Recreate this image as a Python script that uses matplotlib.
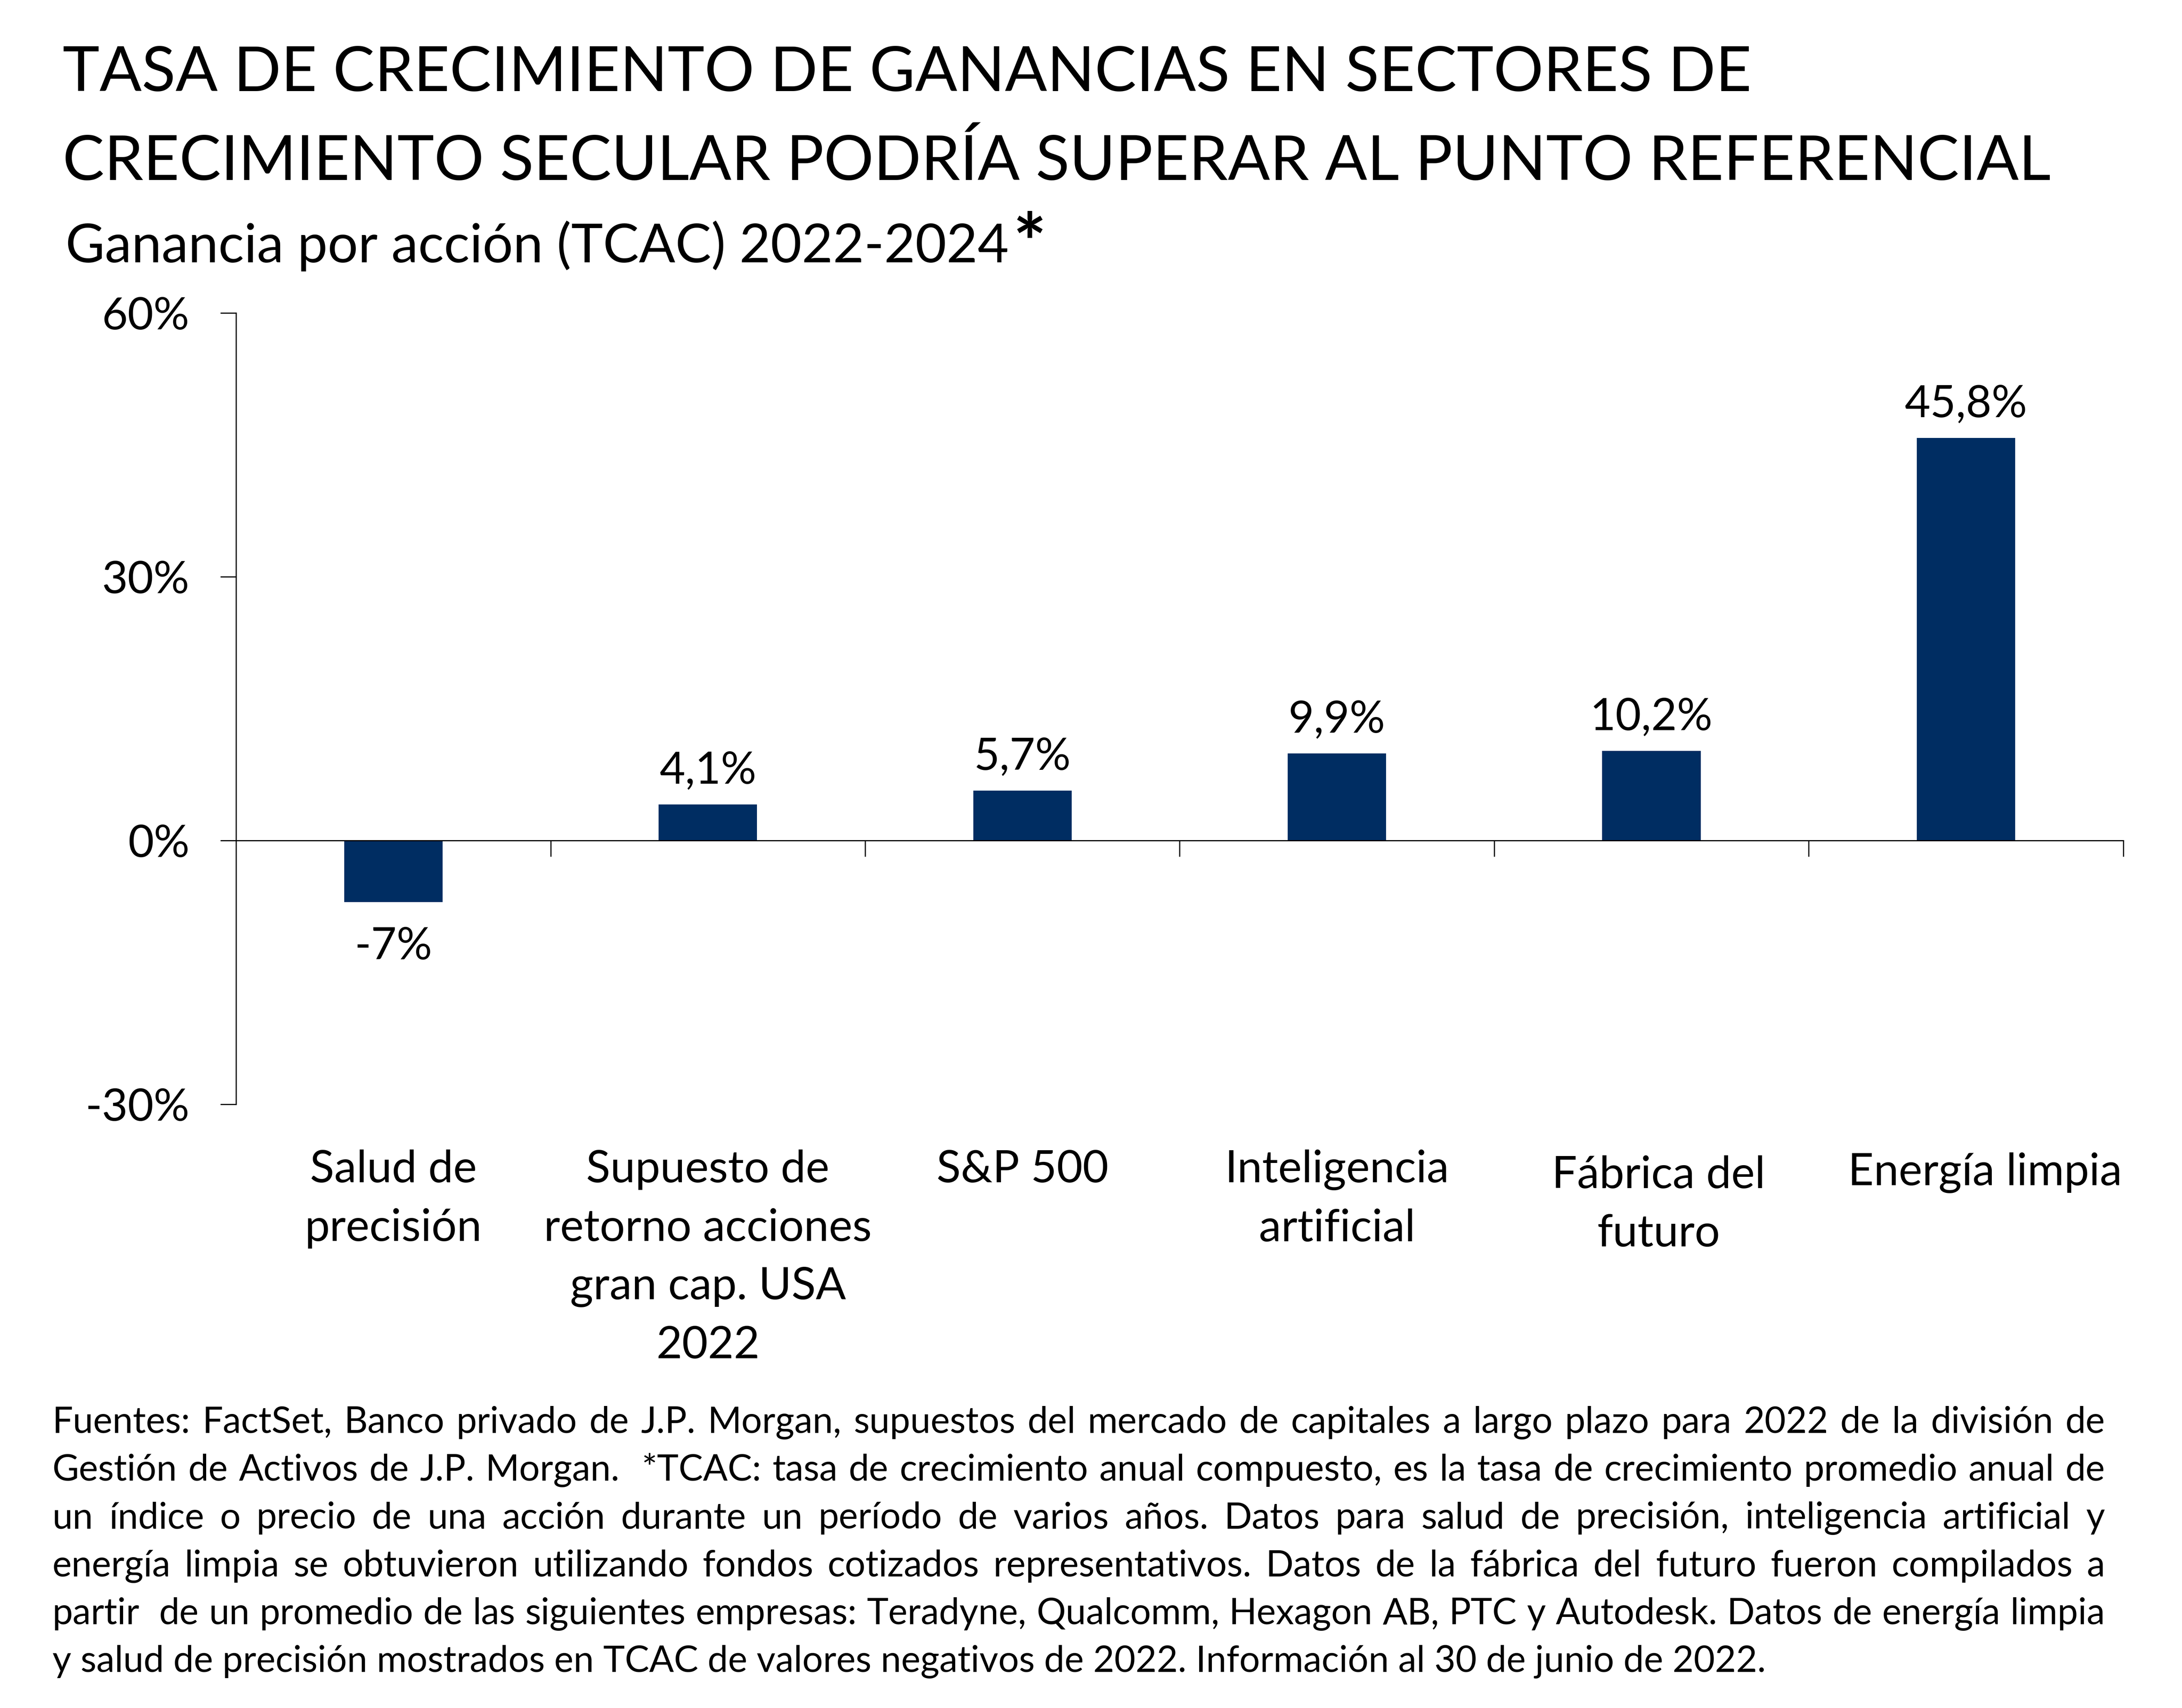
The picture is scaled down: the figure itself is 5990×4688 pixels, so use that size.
import matplotlib
matplotlib.use("Agg")
import matplotlib.pyplot as plt
from matplotlib.transforms import ScaledTranslation
from matplotlib.textpath import TextPath
from matplotlib.font_manager import FontProperties
import numpy as np

# ---------------- data ----------------
categories = [
    "Salud de\nprecisión",
    "Supuesto de\nretorno acciones\ngran cap. USA\n2022",
    "S&P 500",
    "Inteligencia\nartificial",
    "Fábrica del\nfuturo",
    "Energía limpia",
]
values = [-7.0, 4.1, 5.7, 9.9, 10.2, 45.8]
value_labels = ["-7%", "4,1%", "5,7%", "9,9%", "10,2%", "45,8%"]
yticks = [-30, 0, 30, 60]
ytick_labels = ["-30%", "0%", "30%", "60%"]

title_lines = [
    "TASA DE CRECIMIENTO DE GANANCIAS EN SECTORES DE",
    "CRECIMIENTO SECULAR PODRÍA SUPERAR AL PUNTO REFERENCIAL",
]
subtitle = "Ganancia por acción (TCAC) 2022-2024"
footnote_lines = [
    "Fuentes: FactSet, Banco privado de J.P. Morgan, supuestos del mercado de capitales a largo plazo para 2022 de la división de",
    "Gestión de Activos de J.P. Morgan.  *TCAC: tasa de crecimiento anual compuesto, es la tasa de crecimiento promedio anual de",
    "un índice o precio de una acción durante un período de varios años. Datos para salud de precisión, inteligencia artificial y",
    "energía limpia se obtuvieron utilizando fondos cotizados representativos. Datos de la fábrica del futuro fueron compilados a",
    "partir  de un promedio de las siguientes empresas: Teradyne, Qualcomm, Hexagon AB, PTC y Autodesk. Datos de energía limpia",
    "y salud de precisión mostrados en TCAC de valores negativos de 2022. Información al 30 de junio de 2022.",
]

BAR_COLOR = "#002D62"

# ---------------- figure ----------------
plt.rcParams["font.family"] = ["Lato", "DejaVu Sans"]
W, H, DPI = 5990, 4688, 384
fig = plt.figure(figsize=(W / DPI, H / DPI), dpi=DPI)
fig.patch.set_facecolor("white")

SW, SH = 1560.0, 4688 / (5990 / 1560.0)  # reference "display" units
PT = 0.72  # points per display unit


def fx(px):
    return px / SW


def fy(py):
    return 1 - py / SH


# axes box
L, R, T, B = 168.8, 1518.0, 223.8, 789.5
ax = fig.add_axes([fx(L), fy(B), fx(R) - fx(L), fy(T) - fy(B)])

x = np.arange(len(categories))
ax.bar(x, values, width=0.313, color=BAR_COLOR, zorder=2)

ax.set_xlim(-0.5, len(categories) - 0.5)
ax.set_ylim(-30, 60)

for s in ["top", "right"]:
    ax.spines[s].set_visible(False)
ax.spines["bottom"].set_position(("data", 0))
for s in ["left", "bottom"]:
    ax.spines[s].set_linewidth(0.6)
    ax.spines[s].set_color("#000000")

ax.set_yticks(yticks)
ax.set_yticklabels(ytick_labels)
ax.tick_params(axis="y", direction="out", length=8, width=0.6, pad=16,
               labelsize=23, colors="black")

# boundary ticks (major) and category labels (minor)
ax.set_xticks(np.arange(0.5, len(categories), 1.0))
ax.set_xticklabels([])
ax.tick_params(axis="x", which="major", direction="out", length=8.2, width=0.6)
ax.set_xticks(x, minor=True)
ax.set_xticklabels(categories, minor=True)
ax.tick_params(axis="x", which="minor", length=0, pad=159, labelsize=23)
for lbl in ax.get_xticklabels(minor=True):
    lbl.set_linespacing(1.55)

# small per-label nudges seen in the reference (display units)
label_nudges = {4: (5.0, -4.0), 5: (13.5, -2.0)}
for i, tick in enumerate(ax.xaxis.get_minor_ticks()):
    if i in label_nudges:
        dx, dy = label_nudges[i]
        tick.label1.set_transform(
            tick.label1.get_transform()
            + ScaledTranslation(dx * PT / 72, dy * PT / 72, fig.dpi_scale_trans))

# value labels
for xi, v, lab in zip(x, values, value_labels):
    if v >= 0:
        ax.annotate(lab, (xi, v), xytext=(0, 10.8), textcoords="offset points",
                    ha="center", va="baseline", fontsize=22.8)
    else:
        ax.annotate(lab, (xi, v), xytext=(0, -12.5), textcoords="offset points",
                    ha="center", va="top", fontsize=22.8)

# ---------------- titles ----------------
fig.text(fx(44.8), fy(65.0), title_lines[0], fontsize=32.1, ha="left", va="baseline")
fig.text(fx(44.8), fy(128.6), title_lines[1], fontsize=32.1, ha="left", va="baseline")
SUB_BASE = 187.5
sub = fig.text(fx(47), fy(SUB_BASE), subtitle, fontsize=27.7, ha="left", va="baseline")

renderer = fig.canvas.get_renderer()
fig_w_px = fig.bbox.width

# big raised asterisk, sized from its glyph outline
fp_b = FontProperties(family=["Lato", "DejaVu Sans"], weight="bold")
ext = TextPath((0, 0), "*", size=100, prop=fp_b).get_extents()
target_h_pt = 19.2 * PT
a_size = 100 * target_h_pt / ext.height
top_pt = ext.y1 * a_size / 100
a_base = 150.8 + top_pt / PT
sb = sub.get_window_extent(renderer)
ink_left_disp = sb.x1 / fig_w_px * SW + 5.7
a_x = ink_left_disp - (ext.x0 * a_size / 100) / PT
fig.text(fx(a_x), fy(a_base), "*", fontsize=a_size,
         fontweight="bold", ha="left", va="baseline")

# ---------------- footnote (justified) ----------------
FN_SIZE = 18.8
x_left, x_right = fx(37.4), fx(1505)
base0, step = 1024.2, 34.2


def tw(s):
    t = fig.text(0, 0, s, fontsize=FN_SIZE)
    w = t.get_window_extent(renderer).width / fig_w_px
    t.remove()
    return w


avail = x_right - x_left
for i, line in enumerate(footnote_lines):
    yb = fy(base0 + i * step)
    if i == len(footnote_lines) - 1:
        fig.text(x_left, yb, line, fontsize=FN_SIZE, ha="left", va="baseline")
        continue
    words = line.split(" ")
    widths = [tw(wd) if wd else 0.0 for wd in words]
    gap = (avail - sum(widths)) / (len(words) - 1)
    xc = x_left
    for wd, wdt in zip(words, widths):
        if wd:
            fig.text(xc, yb, wd, fontsize=FN_SIZE, ha="left", va="baseline")
        xc += wdt + gap

fig.savefig("out.png", dpi=DPI, facecolor="white")
